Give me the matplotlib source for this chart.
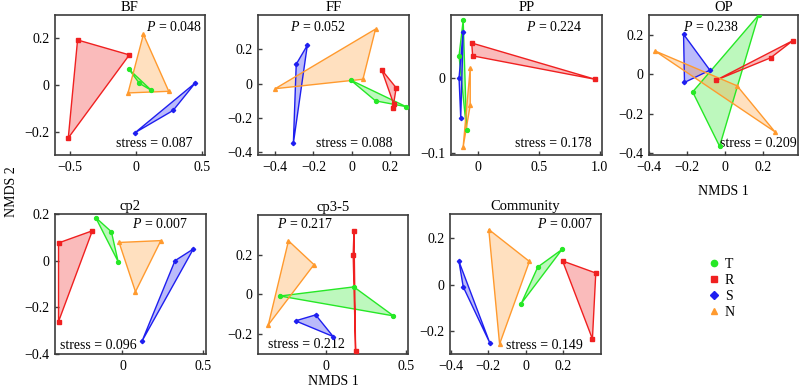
import matplotlib
matplotlib.use("Agg")
import matplotlib.pyplot as plt
from matplotlib.lines import Line2D

plt.rcParams['font.family'] = ['Liberation Serif', 'DejaVu Serif']
plt.rcParams['mathtext.fontset'] = 'custom'
plt.rcParams['mathtext.it'] = 'Liberation Serif:italic'
plt.rcParams['mathtext.rm'] = 'Liberation Serif'
plt.rcParams['font.size'] = 10

groups = ['T', 'R', 'S', 'N']
colors = {'T': '#26e826', 'R': '#f02020', 'S': '#1e1ef0', 'N': '#ff9a2e'}
markers = {'T': 'o', 'R': 's', 'S': 'D', 'N': '^'}
msizes = {'T': 2.8, 'R': 2.8, 'S': 2.2, 'N': 2.8}

# ---- data (NMDS1, NMDS2) ----
BF_T = [(-0.054, 0.068), (0.026, 0.007), (0.116, -0.023)]
BF_R = [(-0.44, 0.193), (-0.05, 0.129), (-0.51, -0.227)]
BF_S = [(-0.006, -0.204), (0.28, -0.109), (0.447, 0.009)]
BF_N = [(0.056, 0.217), (0.247, -0.027), (-0.06, -0.034)]

FF_T = [(-0.005, 0.020), (0.125, -0.101), (0.285, -0.135)]
FF_R = [(0.157, 0.080), (0.233, -0.025), (0.216, -0.143), (0.22, -0.12)]
FF_S = [(-0.305, -0.349), (-0.29, 0.113), (-0.232, 0.223)]
FF_N = [(-0.40, -0.030), (0.125, 0.318), (0.059, 0.025)]

PP_T = [(-0.12, 0.076), (-0.154, 0.029), (-0.092, -0.069)]
PP_R = [(-0.05, 0.046), (-0.042, 0.029), (0.965, -0.002)]
PP_S = [(-0.12, 0.061), (-0.154, 0.0), (-0.14, -0.053)]
PP_N = [(-0.062, 0.013), (-0.062, -0.036), (-0.12, -0.091)]

OP_T = [(0.177, 0.299), (-0.17, -0.09), (-0.028, -0.366)]
OP_R = [(-0.045, -0.03), (0.241, 0.083), (0.358, 0.17)]
OP_S = [(-0.218, 0.2025), (-0.213, -0.042), (-0.079, 0.02)]
OP_N = [(-0.369, 0.118), (0.064, -0.059), (0.263, -0.292)]

CP2_T = [(-0.167, 0.185), (-0.069, 0.124), (-0.027, -0.004)]
CP2_R = [(-0.398, 0.076), (-0.1875, 0.128), (-0.398, -0.261)]
CP2_S = [(0.123, -0.343), (0.327, 0.0), (0.441, 0.05)]
CP2_N = [(-0.021, 0.078), (0.239, 0.086), (0.081, -0.133)]

CP35_T = [(-0.283, -0.008), (0.174, 0.038), (0.42, -0.108)]
CP35_R = [(0.175, 0.317), (0.17, 0.2), (0.185, -0.283)]
CP35_S = [(-0.1875, -0.133), (-0.0625, -0.103), (0.046, -0.212)]
CP35_N = [(-0.231, 0.27), (-0.073, 0.15), (-0.356, -0.153)]

COM_T = [(-0.023, -0.082), (0.066, 0.076), (0.196, 0.152)]
COM_R = [(0.199, 0.102), (0.377, 0.05), (0.359, -0.235)]
COM_S = [(-0.357, 0.10), (-0.334, -0.01), (-0.192, -0.251)]
COM_N = [(-0.197, 0.238), (0.021, 0.10), (-0.139, -0.257)]

titles = ['BF', 'FF', 'PP', 'OP', 'cp2', 'cp3-5', 'Community']
p_values = ['0.048', '0.052', '0.224', '0.238', '0.007', '0.217', '0.007']
stress_values = ['0.087', '0.088', '0.178', '0.209', '0.096', '0.212', '0.149']

xticks = [[-0.5, 0, 0.5], [-0.4, -0.2, 0, 0.2], [0, 0.5, 1.0], [-0.4, -0.2, 0, 0.2],
          [0, 0.5], [0, 0.5], [-0.4, -0.2, 0, 0.2]]
xticklabels = [['\u22120.5', '0', '0.5'], ['\u22120.4', '\u22120.2', '0', '0.2'],
               ['0', '0.5', '1.0'], ['\u22120.4', '\u22120.2', '0', '0.2'],
               ['0', '0.5'], ['0', '0.5'], ['\u22120.4', '\u22120.2', '0', '0.2']]
yticks = [[-0.2, 0, 0.2], [-0.4, -0.2, 0, 0.2], [-0.1, 0], [-0.4, -0.2, 0, 0.2],
          [-0.4, -0.2, 0, 0.2], [-0.2, 0, 0.2], [-0.2, 0, 0.2]]
yticklabels = [['\u22120.2', '0', '0.2'], ['\u22120.4', '\u22120.2', '0', '0.2'],
               ['\u22120.1', '0'], ['\u22120.4', '\u22120.2', '0', '0.2'],
               ['\u22120.4', '\u22120.2', '0', '0.2'], ['\u22120.2', '0', '0.2'],
               ['\u22120.2', '0', '0.2']]

panel_data = [
    [BF_T, BF_R, BF_S, BF_N],
    [FF_T, FF_R, FF_S, FF_N],
    [PP_T, PP_R, PP_S, PP_N],
    [OP_T, OP_R, OP_S, OP_N],
    [CP2_T, CP2_R, CP2_S, CP2_N],
    [CP35_T, CP35_R, CP35_S, CP35_N],
    [COM_T, COM_R, COM_S, COM_N],
]

# ---- layout (pixels in an 800x389 figure) ----
W, H = 800, 389
boxes = [(55, 15, 150, 140), (258, 15, 151, 140), (451, 15, 151, 140), (649, 15, 149, 140),
         (55, 214, 151, 140), (258, 215, 150, 139), (450, 214, 151, 140)]
xlims = [(-0.61, 0.52), (-0.49, 0.30), (-0.22, 1.02), (-0.40, 0.385),
         (-0.42, 0.52), (-0.42, 0.51), (-0.405, 0.405)]
ylims = [(-0.30, 0.30), (-0.417, 0.40), (-0.102, 0.083), (-0.41, 0.30),
         (-0.40, 0.20), (-0.30, 0.40), (-0.30, 0.305)]
p_pos = [(0.978, 0.915, 'right'), (0.40, 0.915, 'center'), (0.872, 0.915, 'right'),
         (0.414, 0.915, 'center'), (0.883, 0.928, 'right'), (0.125, 0.932, 'left'),
         (0.95, 0.928, 'right')]
s_pos = [(0.915, 0.083, 'right'), (0.89, 0.08, 'right'), (0.93, 0.08, 'right'),
         (0.99, 0.083, 'right'), (0.03, 0.058, 'left'), (0.065, 0.065, 'left'),
         (0.883, 0.058, 'right')]
xlabel_pad = {'OP': 8, 'cp3-5': 1.5}

fig = plt.figure(figsize=(W / 100, H / 100), dpi=100)
frame = '#3c3c3c'

for i, title in enumerate(titles):
    x0, y0, w, h = boxes[i]
    ax = fig.add_axes([x0 / W, 1 - (y0 + h) / H, w / W, h / H])
    for g, pts in zip(groups, panel_data[i]):
        xs = [p[0] for p in pts]
        ys = [p[1] for p in pts]
        c = colors[g]
        ax.fill(xs, ys, facecolor=c, alpha=0.3, edgecolor='none', zorder=2)
        ax.fill(xs, ys, facecolor='none', edgecolor=c, lw=1.0, zorder=3)
        ax.plot(xs, ys, ls='none', marker=markers[g], color=c, ms=msizes[g], zorder=4)
    ax.set_xlim(*xlims[i])
    ax.set_ylim(*ylims[i])
    ax.set_xticks(xticks[i])
    ax.set_xticklabels(xticklabels[i])
    ax.set_yticks(yticks[i])
    ax.set_yticklabels(yticklabels[i])
    ax.tick_params(direction='in', length=3, width=1, colors=frame, labelcolor='black',
                   labelsize=10, pad=4)
    for s in ax.spines.values():
        s.set_color(frame)
        s.set_linewidth(1.2)
    ax.set_title(title, fontsize=10.5, pad=3)
    px, py, ha = p_pos[i]
    ax.text(px, py, r'$P$ = ' + p_values[i], transform=ax.transAxes, ha=ha, va='center',
            fontsize=10)
    sx, sy, ha = s_pos[i]
    ax.text(sx, sy, 'stress = ' + stress_values[i], transform=ax.transAxes, ha=ha,
            va='center', fontsize=10)
    if title in xlabel_pad:
        ax.set_xlabel('NMDS 1', fontsize=10, labelpad=xlabel_pad[title])

fig.text(12 / W, 1 - 192 / H, 'NMDS 2', rotation=90, ha='center', va='center', fontsize=10)

handles = [Line2D([], [], ls='none', marker=markers[g], color=colors[g],
                  ms=4.5 if g != 'S' else 3.8, label=g)
           for g in groups]
fig.legend(handles=handles, loc='upper left', bbox_to_anchor=(697 / W, 1 - 248 / H),
           frameon=False, fontsize=10, handlelength=1.0, handletextpad=0.3,
           labelspacing=0.22, borderpad=0.2)

fig.savefig('out.png', dpi=100)
